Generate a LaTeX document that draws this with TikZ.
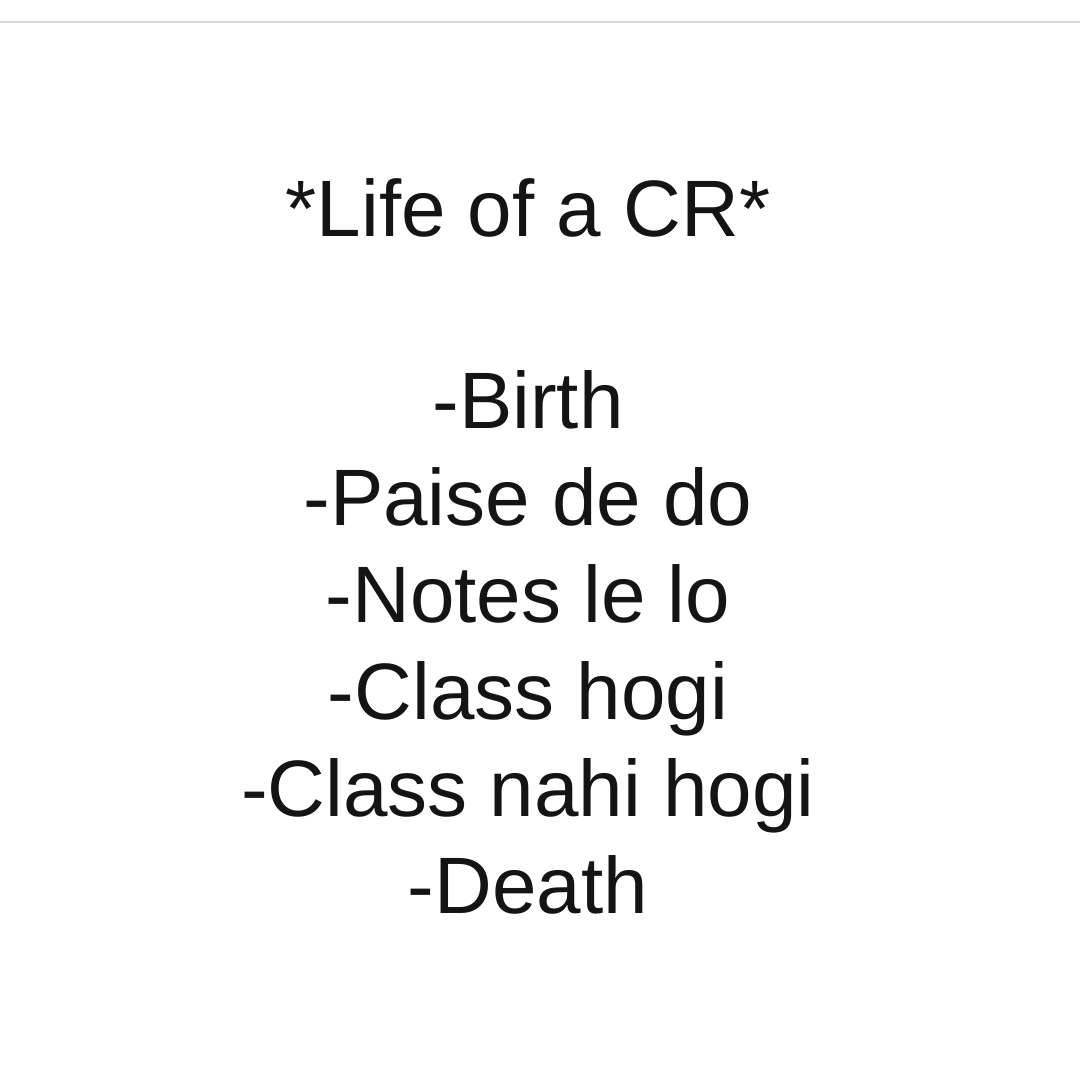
\documentclass[tikz,border=0pt]{standalone}
\usepackage{fontspec}
\setmainfont{Liberation Sans}
\usetikzlibrary{positioning}

\begin{document}
\begin{tikzpicture}[x=.75pt,y=-.75pt]
  % some colors
  \colorlet{ink}{black!92}
  \colorlet{rule}{black!15}
  % some styles
  \tikzset{
    heading/.style={
      anchor=base,
      inner sep=0mm,
      text=ink,
      font=\fontsize{60}{72}\selectfont,
    },
    entry/.style={heading},
    topline/.style={draw=rule,line width=1.5pt},
  }
  % page
  \useasboundingbox[fill=white] (0,0) rectangle (1080,1079);
  \draw[topline] (0,21.5) -- (1080,21.5);
  % title
  \node[heading] (title) at (528,236) {*Life of a CR*};
  % the list, one line every 97px
  \foreach \txt [count=\i] in {-Birth,-Paise de do,-Notes le lo,-Class hogi,-Class nahi hogi,-Death} {
    \node[entry] (l-\i) at (528,331+97*\i) {\txt};
  }
\end{tikzpicture}
\end{document}
